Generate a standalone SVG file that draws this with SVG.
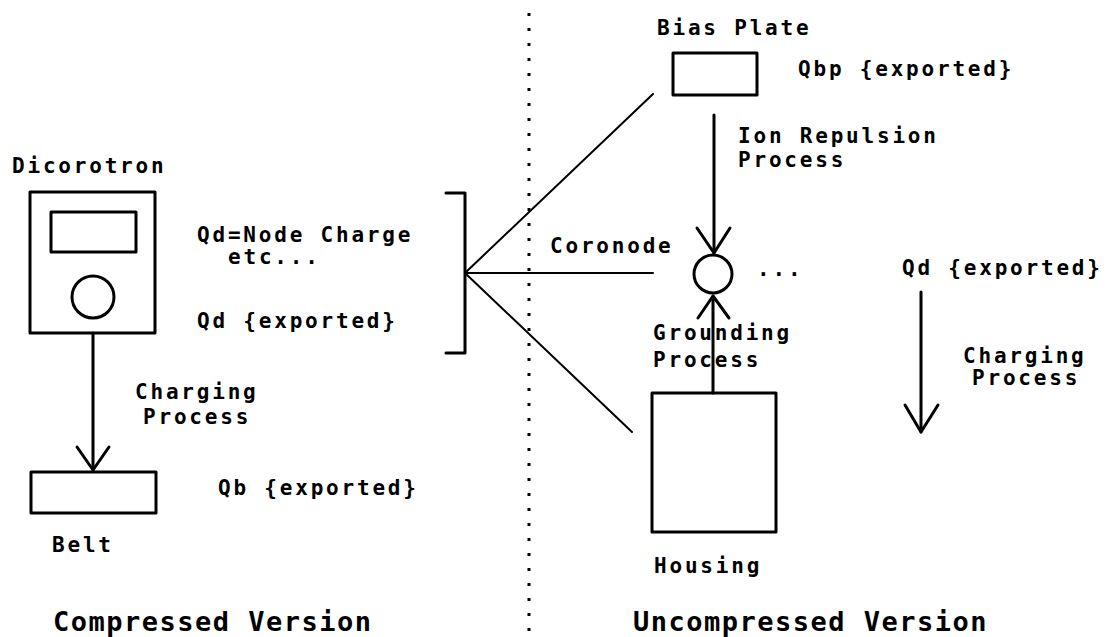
<svg xmlns="http://www.w3.org/2000/svg" width="1108" height="637" viewBox="0 0 1108 637">
<style>
.t{font-family:"DejaVu Sans Mono","Liberation Mono",monospace;font-weight:bold;font-size:21px;letter-spacing:2.8px;fill:#000}
.big{font-size:27px;letter-spacing:1.5px}
.box{fill:none;stroke:#000;stroke-width:3;stroke-linejoin:round}
.ln{fill:none;stroke:#000;stroke-width:3;stroke-linecap:round;stroke-linejoin:round}
.fan{fill:none;stroke:#000;stroke-width:2;stroke-linecap:round}
</style>
<rect width="1108" height="637" fill="#fff"/>
<line x1="529" y1="13" x2="529" y2="637" stroke="#000" stroke-width="3" stroke-dasharray="3 12"/>
<g id="dicorotron">
<rect class="box" x="30" y="192" width="125" height="141"/>
<rect class="box" x="51" y="212" width="85" height="40"/>
<circle class="box" cx="93" cy="297" r="21"/>
<text class="t" x="12" y="173">Dicorotron</text>
</g>
<g id="belt">
<rect class="box" x="31" y="472" width="125" height="41"/>
<text class="t" x="52" y="552">Belt</text>
</g>
<g id="compressed-labels">
<text class="t" x="197" y="242">Qd=Node Charge</text>
<text class="t" x="228" y="264">etc...</text>
<text class="t" x="197" y="328">Qd {exported}</text>
<text class="t" x="135" y="399">Charging</text>
<text class="t" x="143" y="424">Process</text>
<text class="t" x="218" y="495">Qb {exported}</text>
<text class="t big" x="53" y="631">Compressed Version</text>
</g>
<g id="bracket">
<polyline class="ln" points="446,193 465,193 465,353 446,353"/>
</g>
<g id="bias-plate">
<rect class="box" x="673" y="53" width="84" height="42"/>
<text class="t" x="657" y="35">Bias Plate</text>
<text class="t" x="798" y="76">Qbp {exported}</text>
</g>
<g id="coronode">
<circle class="box" cx="713" cy="274" r="19"/>
<text class="t" x="550" y="253">Coronode</text>
<text class="t" x="757" y="276">...</text>
<text class="t" x="902" y="275">Qd {exported}</text>
</g>
<g id="housing">
<rect class="box" x="652" y="393" width="124" height="139"/>
<text class="t" x="654" y="573">Housing</text>
</g>
<g id="uncompressed-labels">
<text class="t" x="738" y="143">Ion Repulsion</text>
<text class="t" x="738" y="167">Process</text>
<text class="t" x="653" y="340">Grounding</text>
<text class="t" x="653" y="367">Process</text>
<text class="t" x="963" y="363">Charging</text>
<text class="t" x="972" y="385">Process</text>
<text class="t big" x="633" y="631">Uncompressed Version</text>
</g>
<g id="connectors">
<line class="ln" x1="93" y1="333" x2="93" y2="470"/>
<polyline class="ln" points="77,447 93,470 109,447"/>
<line class="fan" x1="465" y1="273" x2="653" y2="94"/>
<line class="fan" x1="465" y1="273" x2="653" y2="273"/>
<line class="fan" x1="465" y1="273" x2="632" y2="432"/>
<line class="ln" x1="714" y1="115" x2="714" y2="253"/>
<polyline class="ln" points="697,228 714,253 730,228"/>
<line class="ln" x1="713" y1="393" x2="713" y2="296"/>
<polyline class="ln" points="698,318 713,296 729,318"/>
<line class="ln" x1="921" y1="292" x2="921" y2="432"/>
<polyline class="ln" points="905,405 921,432 938,405"/>
</g>
</svg>
